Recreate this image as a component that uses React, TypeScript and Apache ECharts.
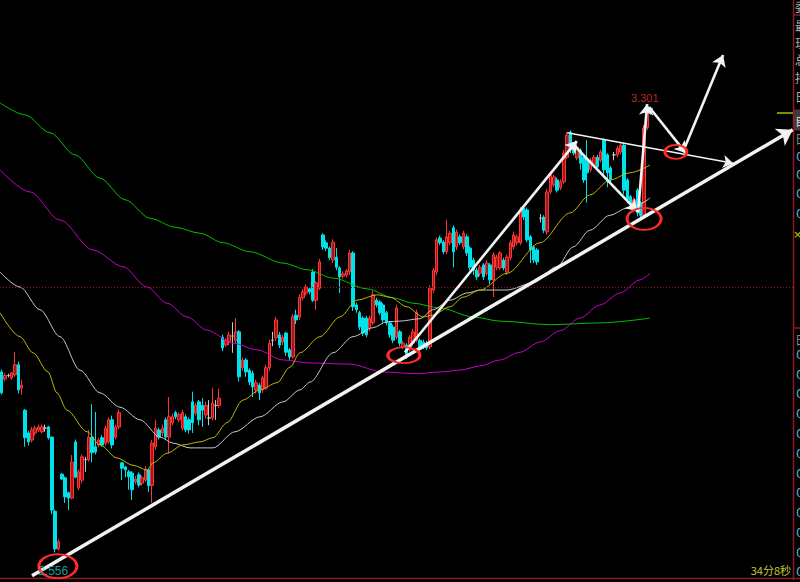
import React, { useEffect, useRef } from "react";
import * as echarts from "echarts";

// ---------- data ----------
const SLOT_COUNT = 237; // candle slots across the plot (candles + empty space on the right)
const PRICE_MIN = 2.5134;
const PRICE_MAX = 3.48;

const openPrices = [
  2.858, 2.846, 2.852, 2.848, 2.853, 2.870, 2.831, 2.794, 2.756, 2.744,
  2.756, 2.761, 2.758, 2.764, 2.766, 2.749, 2.625, 2.562, 2.687, 2.681,
  2.656, 2.647, 2.741, 2.664, 2.677, 2.711, 2.711, 2.749, 2.733, 2.736,
  2.748, 2.739, 2.741, 2.778, 2.749, 2.766, 2.706, 2.699, 2.691, 2.689,
  2.674, 2.686, 2.672, 2.677, 2.694, 2.668, 2.733, 2.761, 2.756, 2.778,
  2.749, 2.773, 2.790, 2.778, 2.764, 2.783, 2.778, 2.808, 2.789, 2.808,
  2.802, 2.786, 2.781, 2.781, 2.802, 2.802, 2.916, 2.903, 2.908, 2.918,
  2.911, 2.925, 2.865, 2.878, 2.861, 2.856, 2.828, 2.836, 2.828, 2.831,
  2.865, 2.911, 2.915, 2.920, 2.908, 2.923, 2.895, 2.883, 2.953, 2.950,
  2.982, 2.990, 2.997, 3.025, 2.978, 2.998, 3.087, 3.074, 3.065, 3.045,
  3.050, 3.032, 3.018, 3.020, 3.025, 3.057, 2.970, 2.957, 2.948, 2.948,
  2.931, 2.940, 2.978, 2.975, 2.970, 2.957, 2.940, 2.933, 2.916, 2.925,
  2.900, 2.903, 2.895, 2.906, 2.911, 2.911, 2.908, 2.906, 2.900, 2.995,
  3.025, 3.082, 3.075, 3.059, 3.074, 3.099, 3.067, 3.084, 3.067, 3.084,
  3.065, 3.045, 3.028, 3.023, 3.037, 3.023, 3.037, 3.012, 3.033, 3.032,
  3.045, 3.025, 3.049, 3.067, 3.074, 3.074, 3.132, 3.129, 3.084, 3.067,
  3.062, 3.115, 3.117, 3.092, 3.159, 3.171, 3.179, 3.166, 3.176, 3.217,
  3.259, 3.237, 3.216, 3.229, 3.217, 3.212, 3.196, 3.204, 3.217, 3.212,
  3.246, 3.221, 3.199, 3.221, 3.221, 3.226, 3.237, 3.179, 3.151, 3.129,
  3.162, 3.141, 3.120, 3.267, 3.299,
];

const closePrices = [
  2.823, 2.852, 2.852, 2.856, 2.870, 2.828, 2.836, 2.748, 2.741, 2.761,
  2.764, 2.766, 2.766, 2.764, 2.748, 2.627, 2.562, 2.574, 2.679, 2.649,
  2.647, 2.707, 2.682, 2.691, 2.716, 2.711, 2.749, 2.723, 2.724, 2.744,
  2.736, 2.764, 2.778, 2.736, 2.766, 2.790, 2.697, 2.694, 2.683, 2.661,
  2.679, 2.669, 2.681, 2.694, 2.668, 2.739, 2.764, 2.749, 2.764, 2.749,
  2.783, 2.783, 2.783, 2.787, 2.790, 2.761, 2.761, 2.773, 2.802, 2.778,
  2.794, 2.802, 2.781, 2.806, 2.802, 2.814, 2.898, 2.911, 2.920, 2.918,
  2.925, 2.850, 2.878, 2.858, 2.841, 2.833, 2.840, 2.823, 2.848, 2.865,
  2.906, 2.911, 2.945, 2.903, 2.916, 2.891, 2.883, 2.950, 2.945, 2.983,
  2.992, 3.000, 2.992, 2.978, 3.007, 3.042, 3.067, 3.065, 3.049, 3.075,
  3.033, 3.017, 3.022, 3.027, 3.057, 2.967, 2.962, 2.933, 2.923, 2.920,
  2.948, 2.987, 2.970, 2.957, 2.945, 2.940, 2.920, 2.911, 2.965, 2.906,
  2.906, 2.886, 2.916, 2.925, 2.957, 2.898, 2.900, 2.898, 2.998, 3.028,
  3.079, 3.074, 3.059, 3.084, 3.090, 3.059, 3.092, 3.074, 3.090, 3.057,
  3.033, 3.028, 3.017, 3.033, 3.017, 3.040, 3.012, 3.054, 3.050, 3.057,
  3.032, 3.050, 3.074, 3.087, 3.084, 3.129, 3.117, 3.079, 3.062, 3.045,
  3.042, 3.115, 3.095, 3.159, 3.187, 3.184, 3.162, 3.176, 3.224, 3.254,
  3.229, 3.224, 3.234, 3.207, 3.179, 3.191, 3.212, 3.217, 3.201, 3.226,
  3.196, 3.191, 3.179, 3.221, 3.232, 3.237, 3.162, 3.146, 3.137, 3.146,
  3.124, 3.120, 3.266, 3.291, 3.291,
];

const lowPrices = [
  2.820, 2.842, 2.849, 2.845, 2.850, 2.822, 2.820, 2.733, 2.735, 2.740,
  2.752, 2.758, 2.755, 2.758, 2.745, 2.620, 2.556, 2.559, 2.677, 2.639,
  2.627, 2.645, 2.680, 2.660, 2.672, 2.691, 2.708, 2.707, 2.720, 2.732,
  2.733, 2.735, 2.738, 2.730, 2.745, 2.762, 2.677, 2.682, 2.661, 2.644,
  2.670, 2.665, 2.668, 2.674, 2.657, 2.639, 2.728, 2.745, 2.750, 2.745,
  2.722, 2.769, 2.779, 2.774, 2.760, 2.757, 2.755, 2.756, 2.785, 2.769,
  2.766, 2.780, 2.769, 2.777, 2.778, 2.798, 2.893, 2.900, 2.903, 2.890,
  2.906, 2.842, 2.860, 2.850, 2.836, 2.816, 2.822, 2.811, 2.823, 2.828,
  2.860, 2.901, 2.910, 2.898, 2.903, 2.885, 2.878, 2.880, 2.938, 2.945,
  2.978, 2.986, 2.988, 2.975, 2.962, 2.995, 3.062, 3.060, 3.045, 3.040,
  3.028, 2.990, 3.014, 3.016, 3.020, 2.960, 2.957, 2.928, 2.918, 2.916,
  2.926, 2.936, 2.966, 2.953, 2.940, 2.936, 2.915, 2.906, 2.912, 2.901,
  2.896, 2.880, 2.892, 2.902, 2.908, 2.894, 2.896, 2.895, 2.896, 2.990,
  3.020, 3.070, 3.055, 3.055, 3.070, 3.033, 3.062, 3.070, 3.063, 3.052,
  3.028, 3.020, 3.012, 3.018, 3.012, 3.019, 3.005, 2.983, 3.028, 3.028,
  3.028, 3.020, 3.045, 3.063, 3.070, 3.070, 3.112, 3.075, 3.040, 3.040,
  3.037, 3.108, 3.090, 3.088, 3.155, 3.167, 3.158, 3.162, 3.172, 3.214,
  3.224, 3.220, 3.212, 3.196, 3.174, 3.141, 3.192, 3.200, 3.197, 3.208,
  3.186, 3.167, 3.175, 3.212, 3.217, 3.222, 3.155, 3.140, 3.133, 3.125,
  3.118, 3.115, 3.116, 3.263, 3.288,
];

const highPrices = [
  2.862, 2.856, 2.855, 2.858, 2.891, 2.875, 2.845, 2.796, 2.760, 2.766,
  2.768, 2.770, 2.770, 2.770, 2.768, 2.750, 2.628, 2.578, 2.689, 2.683,
  2.658, 2.719, 2.745, 2.695, 2.720, 2.716, 2.761, 2.804, 2.791, 2.748,
  2.752, 2.768, 2.782, 2.785, 2.770, 2.795, 2.707, 2.701, 2.694, 2.692,
  2.684, 2.690, 2.684, 2.700, 2.697, 2.744, 2.778, 2.765, 2.770, 2.782,
  2.816, 2.788, 2.793, 2.790, 2.795, 2.787, 2.782, 2.825, 2.806, 2.811,
  2.814, 2.808, 2.811, 2.831, 2.811, 2.830, 2.920, 2.914, 2.925, 2.941,
  2.948, 2.928, 2.882, 2.881, 2.864, 2.860, 2.845, 2.840, 2.852, 2.870,
  2.912, 2.925, 2.950, 2.925, 2.920, 2.925, 2.898, 2.955, 2.962, 2.988,
  2.997, 3.004, 3.000, 3.030, 3.010, 3.047, 3.090, 3.078, 3.068, 3.080,
  3.065, 3.035, 3.026, 3.030, 3.062, 3.060, 2.974, 2.960, 2.951, 2.952,
  2.952, 2.994, 2.982, 2.978, 2.973, 2.960, 2.943, 2.937, 2.970, 2.928,
  2.910, 2.906, 2.920, 2.930, 2.962, 2.914, 2.912, 2.910, 3.003, 3.032,
  3.083, 3.086, 3.078, 3.112, 3.094, 3.103, 3.096, 3.088, 3.094, 3.088,
  3.068, 3.049, 3.032, 3.037, 3.040, 3.044, 3.040, 3.058, 3.054, 3.060,
  3.049, 3.054, 3.078, 3.093, 3.088, 3.134, 3.136, 3.133, 3.087, 3.070,
  3.065, 3.122, 3.120, 3.164, 3.192, 3.188, 3.183, 3.180, 3.229, 3.259,
  3.262, 3.240, 3.238, 3.232, 3.220, 3.246, 3.216, 3.221, 3.221, 3.230,
  3.249, 3.224, 3.202, 3.226, 3.236, 3.242, 3.242, 3.182, 3.154, 3.150,
  3.165, 3.144, 3.271, 3.296, 3.301,
];

// moving averages as [slot, price]
const yellowMa = [
  [-0.5, 2.957], [5.48, 2.917], [9.36, 2.89], [13.85, 2.858], [16.53, 2.823], [19.52, 2.794],
  [25.5, 2.758], [29.39, 2.736], [34.47, 2.714], [39.25, 2.702], [43.43, 2.694], [45.23, 2.706],
  [49.41, 2.722], [54.2, 2.736], [59.27, 2.741], [63.16, 2.748], [67.34, 2.773], [72.12, 2.811],
  [77.2, 2.828], [82.29, 2.84], [86.17, 2.866], [89.16, 2.89], [95.14, 2.917], [101.1, 2.95],
  [106.2, 2.978], [112.2, 2.987], [116.1, 2.983], [121.1, 2.967], [125.9, 2.95], [128.9, 2.953],
  [134.0, 2.967], [137.9, 2.983], [143.0, 2.995], [151.0, 3.023], [160.9, 3.074], [169.9, 3.124],
  [175.8, 3.154], [181.8, 3.179], [187.8, 3.191], [193.8, 3.204],
];
const whiteMa = [
  [-0.5, 3.025], [5.48, 3.0], [11.45, 2.962], [17.43, 2.917], [23.41, 2.861], [29.39, 2.823],
  [35.36, 2.799], [41.34, 2.778], [47.32, 2.749], [51.2, 2.739], [56.28, 2.731], [63.16, 2.731],
  [69.73, 2.758], [77.2, 2.783], [84.08, 2.808], [89.16, 2.828], [92.15, 2.841], [99.02, 2.89],
  [105.0, 2.917], [111.0, 2.932], [115.2, 2.942], [119.0, 2.943], [125.0, 2.947], [128.9, 2.962],
  [134.0, 2.978], [139.1, 2.99], [143.0, 2.995], [151.0, 2.995], [158.8, 3.007], [165.97, 3.034],
  [170.8, 3.067], [175.8, 3.095], [181.8, 3.12], [186.9, 3.132], [189.9, 3.137], [193.8, 3.149],
];
const magentaMa = [
  [-0.5, 3.196], [8.47, 3.159], [17.43, 3.112], [27.3, 3.062], [36.26, 3.034], [43.43, 3.0],
  [49.41, 2.973], [55.39, 2.95], [61.36, 2.928], [69.13, 2.906], [76.3, 2.895], [84.08, 2.878],
  [92.15, 2.873], [104.1, 2.871], [114.0, 2.858], [124.1, 2.855], [131.0, 2.858], [137.0, 2.861],
  [143.0, 2.868], [148.9, 2.878], [154.9, 2.891], [160.9, 2.908], [166.9, 2.927], [172.8, 2.948],
  [178.8, 2.97], [184.8, 2.99], [190.8, 3.012], [193.8, 3.023],
];
const greenMa = [
  [-0.5, 3.308], [6.97, 3.288], [14.44, 3.258], [21.91, 3.221], [29.39, 3.182], [36.86, 3.146],
  [44.33, 3.115], [51.8, 3.1], [59.27, 3.09], [66.15, 3.074], [74.2, 3.059], [84.08, 3.04],
  [91.25, 3.029], [99.02, 3.015], [109.2, 2.997], [116.95, 2.982], [122.9, 2.973], [131.0, 2.965],
  [140.9, 2.95], [148.9, 2.943], [163.9, 2.937], [178.8, 2.94], [193.8, 2.948],
];

const referencePrice = 2.997;

// hand-drawn annotations, in [slot, price]
const trendLine = [[9.06, 2.517], [236.4, 3.263]];
const swingArrows = [
  [[120.5, 2.891], [171.9, 3.244]],
  [[170.4, 3.241], [189.9, 3.127]],
  [[190.2, 3.125], [192.9, 3.306]],
  [[193.5, 3.301], [204.5, 3.224]],
  [[203.6, 3.226], [215.6, 3.388]],
];
const topLine = [[169.0, 3.258], [218.6, 3.207]];
const circledPoints = [
  [16.8, 2.533],
  [120.2, 2.886],
  [192.0, 3.114],
  [201.5, 3.226],
];

const sideLabelsTop = ["委", "最", "现", "总", "持", "日"];
const sideLabelsBottom = ["日"];
const footerText = "34分8秒";

// ---------- styles ----------
const ellipseSizes = [
  [38, 24],
  [32, 16],
  [34, 22],
  [22, 14],
];
const ELLIPSE =
  "path://M1,0C1.552,0 2,0.448 2,1C2,1.552 1.552,2 1,2C0.448,2 0,1.552 0,1C0,0.448 0.448,0 1,0Z";
const PANEL_RED = "#8c1c1c";

function buildOption() {
  const candleData = openPrices.map((o, i) => [o, closePrices[i], lowPrices[i], highPrices[i]]);
  const categories = Array.from({ length: SLOT_COUNT }, (_, i) => String(i));

  let hiIdx = 0;
  let loIdx = 0;
  highPrices.forEach((h, i) => {
    if (h > highPrices[hiIdx]) hiIdx = i;
  });
  lowPrices.forEach((l, i) => {
    if (l < lowPrices[loIdx]) loIdx = i;
  });
  const lastClose = closePrices[closePrices.length - 1];

  const maSeries = (data: number[][], color: string) => ({
    type: "line",
    xAxisIndex: 1,
    yAxisIndex: 0,
    data,
    smooth: 0.3,
    smoothMonotone: "x",
    showSymbol: false,
    symbol: "none",
    silent: true,
    z: 3,
    lineStyle: { color, width: 1 },
  });

  const linesSeries = (data: any[], width: number, size: number, arrow: boolean, color = "#f2f2f2") => ({
    type: "lines",
    coordinateSystem: "cartesian2d",
    xAxisIndex: 1,
    yAxisIndex: 0,
    polyline: false,
    silent: true,
    z: 6,
    symbol: arrow ? ["none", "arrow"] : ["none", "none"],
    symbolSize: size,
    lineStyle: { color, width, opacity: 1, curveness: 0 },
    data: data.map((coords) => ({ coords })),
  });

  const graphics: any[] = [];
  const hLine = (x1: number, y: number, x2: number) =>
    graphics.push({
      type: "line",
      shape: { x1, y1: y, x2, y2: y },
      style: { stroke: PANEL_RED, lineWidth: 1.5 },
      silent: true,
    });
  graphics.push({
    type: "line",
    shape: { x1: 793.5, y1: 0, x2: 793.5, y2: 580 },
    style: { stroke: PANEL_RED, lineWidth: 1.5 },
    silent: true,
  });
  hLine(0, 578.5, 800);
  hLine(793, 15, 800);
  hLine(793, 328, 800);
  graphics.push({
    type: "rect",
    shape: { x: 794, y: 110, width: 8, height: 20 },
    style: { fill: "#3c3c3c", stroke: PANEL_RED, lineWidth: 1.2 },
    silent: true,
  });
  const sideText = (text: string, x: number, y: number, fill: string, font: string) =>
    graphics.push({
      type: "text",
      x,
      y,
      silent: true,
      style: { text, fill, font, verticalAlign: "middle", align: "left" },
    });
  const topYs = [6, 25, 42, 59, 77, 96];
  sideLabelsTop.forEach((t, i) => sideText(t, 795, topYs[i], "#b4b4b4", '12px "Noto Sans CJK SC"'));
  sideText("自", 795, 120, "#d8d8d8", '12px "Noto Sans CJK SC"');
  sideText("日", 795, 138, "#8a8a8a", '12px "Noto Sans CJK SC"');
  [157, 175, 194, 214].forEach((y) => sideText("0", 796, y, "#5cb4d0", '12px "DejaVu Sans"'));
  sideText("×", 793, 234, "#c8c800", '11px "DejaVu Sans"');
  sideLabelsBottom.forEach((t) => sideText(t, 795, 339, "#8a8a8a", '12px "Noto Sans CJK SC"'));
  [355, 375, 394, 414, 434, 454, 474, 493, 513, 533, 553, 572].forEach((y) =>
    sideText("0", 796, y, "#5cb4d0", '12px "DejaVu Sans"')
  );
  graphics.push({
    type: "text",
    x: 791,
    y: 570,
    silent: true,
    style: {
      text: footerText,
      fill: "#c8c832",
      font: '11px "Noto Sans CJK SC"',
      verticalAlign: "middle",
      align: "right",
    },
  });

  return {
    animation: false,
    backgroundColor: "#000000",
    grid: { left: 0, right: 7, top: 0, height: 578, containLabel: false, outerBoundsMode: "none" },
    xAxis: [
      { type: "category", data: categories, boundaryGap: true, show: false },
      { type: "value", min: -0.5, max: SLOT_COUNT - 0.5, show: false, splitLine: { show: false } },
    ],
    yAxis: {
      type: "value",
      min: PRICE_MIN,
      max: PRICE_MAX,
      show: false,
      splitLine: { show: false },
    },
    series: [
      {
        type: "candlestick",
        data: candleData,
        barWidth: 3,
        silent: true,
        z: 2,
        itemStyle: {
          color: "#a01818",
          color0: "#00e2ea",
          borderColor: "#ff3434",
          borderColor0: "#00e2ea",
          borderColorDoji: "#c8c8c8",
          borderWidth: 1,
        },
        markLine: {
          silent: true,
          symbol: ["none", "none"],
          label: { show: false },
          lineStyle: { color: "#a01414", type: [1, 2], width: 1, opacity: 1 },
          data: [{ yAxis: referencePrice }],
        },
      },
      maSeries(greenMa, "#00c000"),
      maSeries(magentaMa, "#c800c8"),
      maSeries(whiteMa, "#c8c8c8"),
      maSeries(yellowMa, "#c0b800"),
      linesSeries([trendLine], 3.5, 15, true),
      linesSeries(swingArrows, 2.6, 11, true),
      linesSeries([topLine], 1.6, 10, true),
      linesSeries(
        [
          [
            [231.7, lastClose],
            [236.5, lastClose],
          ],
        ],
        2,
        0,
        false,
        "#8a8a00"
      ),
      {
        type: "scatter",
        xAxisIndex: 1,
        yAxisIndex: 0,
        silent: true,
        z: 7,
        symbol: ELLIPSE,
        itemStyle: { color: "rgba(0,0,0,0)", borderColor: "#ff2a2a", borderWidth: 2.4, opacity: 1 },
        data: circledPoints.map((p, i) => ({ value: p, symbolSize: ellipseSizes[i] })),
      },
      {
        type: "scatter",
        xAxisIndex: 1,
        yAxisIndex: 0,
        silent: true,
        z: 8,
        symbolSize: 1,
        itemStyle: { color: "rgba(0,0,0,0)" },
        data: [
          {
            value: [hiIdx, highPrices[hiIdx]],
            label: {
              show: true,
              position: "top",
              distance: 3,
              offset: [-6, 0],
              formatter: highPrices[hiIdx].toFixed(3),
              color: "#e03434",
              fontSize: 11,
              fontFamily: "Liberation Sans",
            },
          },
          {
            value: [loIdx, lowPrices[loIdx]],
            label: {
              show: true,
              position: "bottom",
              distance: 12,
              offset: [-2, 0],
              formatter: lowPrices[loIdx].toFixed(3),
              color: "#20c4c4",
              fontSize: 12,
              fontFamily: "Liberation Sans",
            },
          },
        ],
      },
    ],
    graphic: graphics,
  };
}

export default function App() {
  const ref = useRef<HTMLDivElement>(null);
  useEffect(() => {
    if (!ref.current) return;
    const chart = echarts.init(ref.current, null, { renderer: "svg" });
    chart.setOption(buildOption() as any);
    return () => chart.dispose();
  }, []);
  return (
    <div
      ref={ref}
      style={{ position: "fixed", left: 0, top: 0, width: 800, height: 582, background: "#000" }}
    />
  );
}
